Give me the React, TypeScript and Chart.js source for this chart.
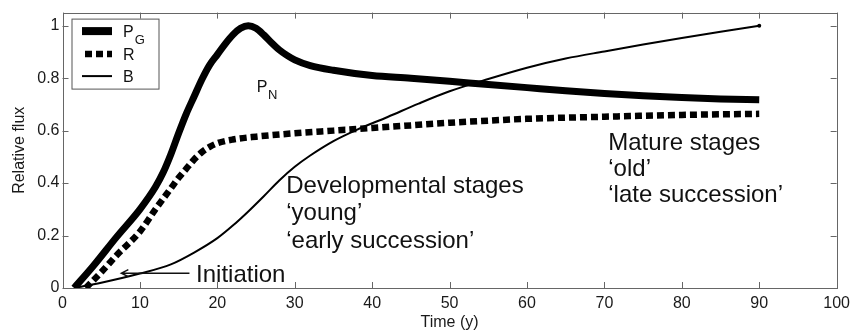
import React, { useEffect, useRef } from "react";
import { Chart, registerables } from "chart.js";

Chart.register(...registerables);

// ---- data ----
const X_TICKS = [0, 10, 20, 30, 40, 50, 60, 70, 80, 90, 100];
const Y_TICKS = [0, 0.2, 0.4, 0.6, 0.8, 1];

const PG_T = [1.5, 4, 7, 10, 12, 13, 14, 15, 16, 17, 18, 19, 20, 21, 22, 23, 24, 25, 26, 27, 28, 29, 30, 32, 35, 40, 45, 50, 55, 60, 65, 70, 75, 80, 85, 90];
const PG_V = [0, 0.085, 0.195, 0.3, 0.385, 0.44, 0.51, 0.59, 0.665, 0.73, 0.795, 0.85, 0.89, 0.93, 0.965, 0.99, 1.0, 0.99, 0.965, 0.935, 0.908, 0.887, 0.87, 0.848, 0.83, 0.81, 0.8, 0.788, 0.776, 0.764, 0.752, 0.742, 0.733, 0.726, 0.721, 0.718];

const R_T = [3, 5, 7, 10, 12, 14, 15, 16, 17, 18, 19, 20, 22, 25, 30, 35, 40, 45, 50, 55, 60, 70, 80, 90];
const R_V = [0, 0.06, 0.125, 0.215, 0.3, 0.38, 0.42, 0.455, 0.49, 0.518, 0.538, 0.552, 0.566, 0.577, 0.59, 0.6, 0.61, 0.62, 0.63, 0.638, 0.645, 0.653, 0.66, 0.664];

const B_T = [1.5, 5, 10, 14, 17, 20, 22, 24, 26, 28, 30, 32, 35, 38, 42, 46, 50, 55, 60, 65, 70, 75, 80, 85, 90];
const B_V = [0, 0.02, 0.055, 0.09, 0.135, 0.19, 0.238, 0.292, 0.35, 0.41, 0.462, 0.505, 0.56, 0.603, 0.652, 0.703, 0.75, 0.797, 0.84, 0.875, 0.902, 0.928, 0.953, 0.977, 1.0];

const SERIES_NAMES = ["P", "R", "B"];
const SERIES_SUBS = ["G", "", ""];

const FONT = "'Liberation Sans', Arial, Helvetica, sans-serif";

const toPts = (t: number[], v: number[]) => t.map((x, i) => ({ x, y: v[i] }));

const overlayPlugin = {
  id: "overlay",
  afterDraw(chart: any) {
    const { ctx, chartArea: a, scales } = chart;
    const xs = scales.x;
    const ys = scales.y;
    ctx.save();
    // frame
    ctx.strokeStyle = "#666";
    ctx.lineWidth = 1;
    ctx.strokeRect(Math.round(a.left) + 0.5, Math.round(a.top) + 0.5, Math.round(a.right - a.left), Math.round(a.bottom - a.top));
    // inward ticks
    const tl = 6;
    ctx.beginPath();
    X_TICKS.forEach((v) => {
      const px = Math.round(xs.getPixelForValue(v)) + 0.5;
      ctx.moveTo(px, a.bottom);
      ctx.lineTo(px, a.bottom - tl);
      ctx.moveTo(px, a.top);
      ctx.lineTo(px, a.top + tl);
    });
    Y_TICKS.forEach((v) => {
      const py = Math.round(ys.getPixelForValue(v)) + 0.5;
      ctx.moveTo(a.left, py);
      ctx.lineTo(a.left + tl, py);
      ctx.moveTo(a.right, py);
      ctx.lineTo(a.right - tl, py);
    });
    ctx.stroke();

    // legend
    const lx = a.left + 9.5;
    const ly = a.top + 6.5;
    ctx.fillStyle = "#fff";
    ctx.fillRect(lx, ly, 87, 70);
    ctx.strokeStyle = "#555";
    ctx.strokeRect(lx, ly, 87, 70);
    const rows = [ly + 12, ly + 35, ly + 57];
    chart.data.datasets.forEach((ds: any, i: number) => {
      const y = rows[i];
      ctx.save();
      ctx.strokeStyle = "#000";
      ctx.lineWidth = i === 0 ? 8 : ds.borderWidth;
      ctx.setLineDash(ds.borderDash || []);
      ctx.lineCap = "butt";
      ctx.beginPath();
      const x0 = i === 1 ? lx + 13 : lx + 10;
      ctx.moveTo(x0, y);
      ctx.lineTo(lx + 40, y);
      ctx.stroke();
      ctx.restore();
      ctx.fillStyle = "#111";
      ctx.textBaseline = "alphabetic";
      ctx.textAlign = "left";
      ctx.font = `16px ${FONT}`;
      ctx.fillText(SERIES_NAMES[i], lx + 51, y + 6);
      if (SERIES_SUBS[i]) {
        const w = ctx.measureText(SERIES_NAMES[i]).width;
        ctx.font = `13px ${FONT}`;
        ctx.fillText(SERIES_SUBS[i], lx + 52 + w, y + 13);
      }
    });

    // annotations
    const X = (v: number) => xs.getPixelForValue(v);
    const Y = (v: number) => ys.getPixelForValue(v);
    ctx.fillStyle = "#111";
    ctx.textAlign = "left";
    ctx.textBaseline = "alphabetic";
    // P_N
    ctx.font = `16px ${FONT}`;
    ctx.fillText("P", X(25.1), Y(0.747));
    const pw = ctx.measureText("P").width;
    ctx.font = `13px ${FONT}`;
    ctx.fillText("N", X(25.1) + pw + 0.5, Y(0.72));

    ctx.font = `24px ${FONT}`;
    ctx.fillText("Initiation", X(17.25), Y(0.0226));
    // arrow
    ctx.strokeStyle = "#111";
    ctx.lineWidth = 1.5;
    const ay = Y(0.0566);
    const ax0 = X(16.4);
    const ax1 = X(7.6);
    ctx.beginPath();
    ctx.moveTo(ax0, ay);
    ctx.lineTo(ax1, ay);
    ctx.moveTo(ax1 + 7, ay - 3.5);
    ctx.lineTo(ax1, ay);
    ctx.lineTo(ax1 + 7, ay + 3.5);
    ctx.stroke();

    const dev = ["Developmental stages", "\u2018young\u2019", "\u2018early succession\u2019"];
    const devY = [0.362, 0.258, 0.154];
    dev.forEach((s, i) => ctx.fillText(s, X(28.9), Y(devY[i])));
    const mat = ["Mature stages", "\u2018old\u2019", "\u2018late succession\u2019"];
    const matY = [0.527, 0.426, 0.326];
    mat.forEach((s, i) => ctx.fillText(s, X(70.5), Y(matY[i])));
    ctx.restore();
  },
};

export default function App() {
  const ref = useRef<HTMLCanvasElement | null>(null);
  useEffect(() => {
    if (!ref.current) return;
    const lastB = B_T.length - 1;
    const chart = new Chart(ref.current, {
      type: "line",
      data: {
        datasets: [
          {
            label: "PG",
            data: toPts(PG_T, PG_V),
            borderColor: "#000",
            borderWidth: 7,
            pointRadius: 0,
            cubicInterpolationMode: "monotone",
            fill: false,
          },
          {
            label: "R",
            data: toPts(R_T, R_V),
            borderColor: "#000",
            borderWidth: 6.5,
            borderDash: [7, 4],
            borderCapStyle: "butt",
            pointRadius: 0,
            cubicInterpolationMode: "monotone",
            fill: false,
          },
          {
            label: "B",
            data: toPts(B_T, B_V),
            borderColor: "#000",
            backgroundColor: "#000",
            borderWidth: 2,
            pointRadius: (c: any) => (c.dataIndex === lastB ? 2 : 0),
            pointBorderWidth: 0,
            cubicInterpolationMode: "monotone",
            fill: false,
          },
        ],
      },
      options: {
        animation: false,
        responsive: false,
        layout: { padding: { top: 9, right: 14, left: 0, bottom: 0 } },
        plugins: { legend: { display: false }, tooltip: { enabled: false } },
        scales: {
          x: {
            type: "linear",
            min: 0,
            max: 100,
            afterBuildTicks: (s: any) => {
              s.ticks = X_TICKS.map((v) => ({ value: v }));
            },
            afterFit: (s: any) => {
              s.height = 47;
            },
            grid: { display: false, drawTicks: false },
            border: { display: false },
            ticks: { color: "#1a1a1a", font: { size: 16, family: FONT }, padding: 6, maxRotation: 0, autoSkip: false },
            title: { display: true, text: "Time (y)", color: "#1a1a1a", font: { size: 16, family: FONT }, padding: { top: 0, bottom: 3 } },
          },
          y: {
            type: "linear",
            min: 0,
            max: 1.05,
            afterBuildTicks: (s: any) => {
              s.ticks = Y_TICKS.map((v) => ({ value: v }));
            },
            afterFit: (s: any) => {
              s.width = 62.5;
            },
            grid: { display: false, drawTicks: false },
            border: { display: false },
            ticks: {
              color: "#1a1a1a",
              font: { size: 16, family: FONT },
              padding: 3,
              callback: (v: any) => String(Math.round(Number(v) * 10) / 10),
            },
            title: { display: true, text: "Relative flux", color: "#1a1a1a", font: { size: 16, family: FONT }, padding: { top: 10, bottom: 0 } },
          },
        },
      },
      plugins: [overlayPlugin],
    } as any);
    return () => chart.destroy();
  }, []);
  return (
    <div style={{ position: "absolute", left: 0, top: 0, width: 856, height: 335, background: "#fff" }}>
      <canvas ref={ref} width={856} height={335} style={{ display: "block" }} />
    </div>
  );
}
